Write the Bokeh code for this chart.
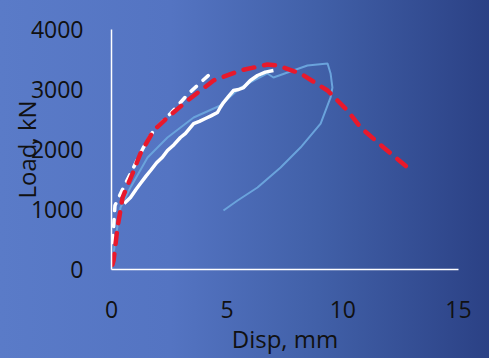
from bokeh.plotting import figure
from bokeh.models import Range1d, GlobalInlineStyleSheet
from bokeh.embed import file_html
from bokeh.resources import INLINE

# ---- data ----
red_x = [0.04, 0.09, 0.26, 0.48, 0.91, 1.25, 1.82, 2.42, 3.29, 4.41, 5.58, 6.74, 7.18, 8.17, 9.34, 10.2, 10.77, 11.76, 12.8]
red_y = [80, 150, 700, 1200, 1600, 1933, 2317, 2533, 2817, 3150, 3317, 3417, 3400, 3267, 2983, 2650, 2367, 2033, 1700]

wd_x = [0.05, 0.09, 0.15, 0.6, 0.95, 1.38, 1.82, 2.55, 3.33, 4.28]
wd_y = [450, 700, 1067, 1433, 1700, 2033, 2317, 2600, 2933, 3267]

ws_x = [0.55, 0.82, 1.05, 1.25, 1.5, 1.69, 1.95, 2.2, 2.42, 2.7, 2.98, 3.2, 3.55, 3.8, 4.06, 4.3, 4.58, 4.7, 4.84, 5.05, 5.27, 5.5, 5.71, 6.0, 6.31, 6.65, 7.0]
ws_y = [1100, 1200, 1330, 1433, 1560, 1650, 1780, 1870, 1983, 2080, 2200, 2270, 2433, 2470, 2517, 2560, 2617, 2700, 2783, 2880, 2983, 3000, 3033, 3150, 3233, 3290, 3317]

bl_x = [0.1, 0.25, 0.39, 0.82, 1.56, 2.42, 3.55, 4.71, 5.58, 6.74, 7.0, 7.61, 8.47, 9.34, 9.47, 9.55, 9.47, 9.04, 8.17, 7.31, 6.31, 5.45, 4.84]
bl_y = [300, 700, 1033, 1367, 1867, 2200, 2533, 2733, 3033, 3267, 3200, 3283, 3400, 3433, 3267, 3033, 2867, 2433, 2033, 1700, 1367, 1150, 983]

x_ticks = [0, 5, 10, 15]
y_ticks = [0, 1000, 2000, 3000, 4000]

FONT = "Open Sans"
css = GlobalInlineStyleSheet(css="html { background: linear-gradient(to right, #5a7bc8 0%, #5474c2 35%, #4160a8 65%, #2b4185 100%); min-height: 100%; overflow: hidden; }")

p = figure(width=489, height=358, output_backend="svg", toolbar_location=None,
           x_range=Range1d(0, 15), y_range=Range1d(0, 4000),
           min_border_left=111, min_border_right=31, min_border_top=29, min_border_bottom=89)
p.stylesheets = [css]
p.background_fill_alpha = 0
p.border_fill_alpha = 0
p.outline_line_color = None
p.xgrid.visible = False
p.ygrid.visible = False

for ax in (p.xaxis[0], p.yaxis[0]):
    ax.axis_line_color = "white"
    ax.axis_line_width = 1.5
    ax.major_tick_line_color = None
    ax.minor_tick_line_color = None
    ax.major_label_text_font = FONT
    ax.major_label_text_font_size = "23px"
    ax.major_label_text_color = "#111111"
    ax.axis_label_text_font = FONT
    ax.axis_label_text_font_size = "24px"
    ax.axis_label_text_font_style = "normal"
    ax.axis_label_text_color = "#111111"

p.xaxis.major_label_standoff = 25
p.yaxis.major_label_standoff = 22
p.xaxis.ticker = x_ticks
p.yaxis.ticker = y_ticks
p.xaxis.axis_label = "Disp, mm"
p.xaxis.axis_label_standoff = 1
p.yaxis.axis_label = "Load, kN"
p.yaxis.axis_label_standoff = -15

p.line(bl_x, bl_y, line_color="#6aa3dc", line_width=2)
p.line(ws_x, ws_y, line_color="white", line_width=3.5, line_join="round")
p.line(wd_x, wd_y, line_color="white", line_width=3.5, line_dash="7 9", line_cap="round")
p.line(red_x, red_y, line_color="#e8192c", line_width=4.5, line_dash="11 10", line_cap="round")

open("out.html", "w").write(file_html(p, INLINE))
